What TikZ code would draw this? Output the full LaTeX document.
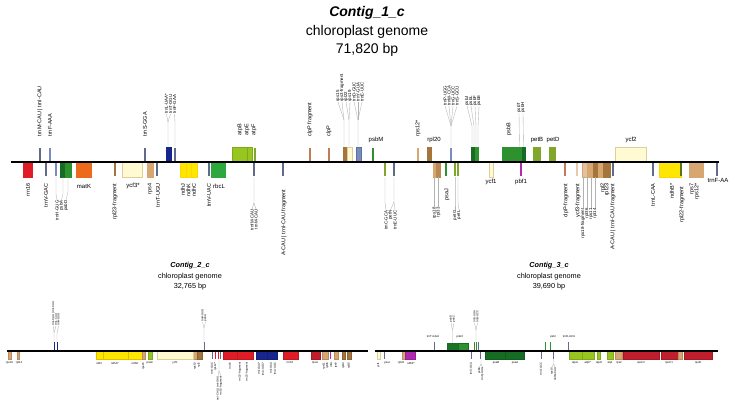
\documentclass[tikz,border=0pt]{standalone}
\usepackage{fontspec}
\setmainfont{Liberation Sans}
\usepackage{tikz}

% gene colours
\definecolor{cRrn}{RGB}{224,28,38}
\definecolor{cRpo}{RGB}{192,30,45}
\definecolor{cTrn}{RGB}{96,106,140}
\definecolor{cTrnL}{RGB}{120,140,190}
\definecolor{cTrnB}{RGB}{22,38,140}
\definecolor{cPsb}{RGB}{45,145,45}
\definecolor{cPsbD}{RGB}{22,108,36}
\definecolor{cRbc}{RGB}{44,168,60}
\definecolor{cAtp}{RGB}{152,198,32}
\definecolor{cPet}{RGB}{128,166,42}
\definecolor{cMat}{RGB}{236,106,28}
\definecolor{cYcf}{RGB}{255,250,210}
\definecolor{cYcfB}{RGB}{222,206,156}
\definecolor{cRps}{RGB}{216,166,112}
\definecolor{cRpl}{RGB}{164,118,62}
\definecolor{cClp}{RGB}{192,124,84}
\definecolor{cNdh}{RGB}{255,230,0}
\definecolor{cPur}{RGB}{176,42,176}

\begin{document}
\begin{tikzpicture}[x=1pt, y=-1pt,
    ttl/.style={font=\fontsize{14}{16}\selectfont\bfseries\itshape},
    sub/.style={font=\fontsize{14}{16}\selectfont},
    ttls/.style={font=\fontsize{7.3}{8}\selectfont\bfseries\itshape},
    subs/.style={font=\fontsize{7.3}{8}\selectfont},
    lab/.style={font=\fontsize{5.5}{6}\selectfont, inner sep=0.4pt},
    labh/.style={font=\fontsize{6}{7}\selectfont, inner sep=0.4pt},
    labup/.style={lab, rotate=90, anchor=west},
    labdn/.style={lab, rotate=90, anchor=east},
    labc/.style={font=\fontsize{4.4}{5}\selectfont, inner sep=0.3pt, rotate=90, anchor=west},
    labcd/.style={font=\fontsize{4.4}{5}\selectfont, inner sep=0.3pt, rotate=90, anchor=east},
    sm/.style={font=\fontsize{2.8}{3}\selectfont, inner sep=0.3pt},
    smup/.style={sm, rotate=90, anchor=west},
    smdn/.style={sm, rotate=90, anchor=east},
    link/.style={draw=gray!60, line width=0.35pt},
    tick/.style={line width=1.2pt},
    stick/.style={line width=0.7pt},
    axis/.style={line width=2.8pt},
    saxis/.style={line width=1.3pt}]
  \useasboundingbox[fill=white] (0,0) rectangle (735,412);

  % titles
  \node[ttl] (t1) at (367,13) {Contig\_1\_c};
  \node[sub] (t1a) at (367,32) {chloroplast genome};
  \node[sub] (t1b) at (367,50) {71,820 bp};
  \node[ttls] (t2) at (190,266) {Contig\_2\_c};
  \node[subs] (t2a) at (190,276.5) {chloroplast genome};
  \node[subs] (t2b) at (190,286.5) {32,765 bp};
  \node[ttls] (t3) at (549,266) {Contig\_3\_c};
  \node[subs] (t3a) at (549,276.5) {chloroplast genome};
  \node[subs] (t3b) at (549,286.5) {39,690 bp};

  %% ---------------- Contig 1 ----------------
  % genes above the line
  \draw[fill=cTrnB,draw=cTrnB] (166,147) rectangle (171,162);
  \draw[fill=cAtp,draw=cAtp!85!black] (232,147) rectangle (247,162);
  \draw[fill=cAtp,draw=cAtp!85!black] (247,147) rectangle (252,162);
  \draw[fill=cRpl,draw=cRpl] (343,147) rectangle (346,162);
  \draw[fill=cYcf,draw=cYcfB] (347,147) rectangle (352,162);
  \draw[fill=cTrnL,draw=cTrnL!80!black] (356,147) rectangle (361,162);
  \draw[fill=cRpl,draw=cRpl] (427,147) rectangle (431,162);
  \draw[fill=cPsbD,draw=cPsbD] (471,147) rectangle (474.5,162);
  \draw[fill=cPsb,draw=cPsb] (475,147) rectangle (478,162);
  \draw[fill=cPsb,draw=cPsb] (502,147) rectangle (517,162);
  \draw[fill=cPsb,draw=cPsb] (518.5,147) rectangle (521,162);
  \draw[fill=cPsbD,draw=cPsbD] (522.5,147) rectangle (525,162);
  \draw[fill=cPet,draw=cPet] (533,147) rectangle (540,162);
  \draw[fill=cPet,draw=cPet] (549,147) rectangle (555,162);
  \draw[fill=cYcf,draw=cYcfB] (615,147) rectangle (646,162);
  \foreach \x/\c in {40/cTrn,50/cTrnL,145/cTrn,175/cTrn,255/cPet,310/cClp,329/cClp,373/cPsb,418/cRps,451/cTrnL}
    \draw[tick,\c] (\x,148) -- (\x,161);

  % genes below the line
  \draw[fill=cRrn,draw=cRrn] (23,162) rectangle (32,177);
  \draw[fill=cPsbD,draw=cPsbD] (60,162) rectangle (65,177);
  \draw[fill=cPsb,draw=cPsb] (65,162) rectangle (71,177);
  \draw[fill=cMat,draw=cMat] (76,162) rectangle (91,177);
  \draw[fill=cYcf,draw=cYcfB] (122,162) rectangle (142,177);
  \draw[fill=cRps,draw=cRps] (147,162) rectangle (153,177);
  \draw[fill=cNdh,draw=cNdh!85!orange] (180,162) rectangle (186,177);
  \draw[fill=cNdh,draw=cNdh!85!orange] (186,162) rectangle (191,177);
  \draw[fill=cNdh,draw=cNdh!85!orange] (191,162) rectangle (197,177);
  \draw[fill=cRbc,draw=cRbc] (211,162) rectangle (225,177);
  \draw[fill=cRps,draw=cRps] (433,162) rectangle (436,177);
  \draw[fill=cRpl!60!cRps,draw=cRpl!60!cRps] (436,162) rectangle (440,177);
  \draw[fill=cYcf,draw=cYcfB] (489,162) rectangle (493,177);
  \draw[fill=cRps!70!white,draw=cRps] (582,162) rectangle (587,177);
  \draw[fill=cRps,draw=cRps] (587,162) rectangle (593,177);
  \draw[fill=cRpl,draw=cRpl] (593,162) rectangle (598,177);
  \draw[fill=cRps,draw=cRps] (598,162) rectangle (603,177);
  \draw[fill=cRpl,draw=cRpl] (603,162) rectangle (610,177);
  \draw[fill=cNdh,draw=cNdh!85!orange] (659,162) rectangle (681,177);
  \draw[fill=cRps,draw=cRps] (689,162) rectangle (703,177);
  \foreach \x/\c in {46/cTrn,56/cTrnL,115/cRpl,157/cTrn,209/cTrn,254/cTrn,283/cTrn,385/cPet,394/cTrn,446/cPsb,455/cPet,458/cPet,521/cPur,565/cClp,577/cRps!60!white,613/cTrn,653/cTrn,681/cPet!70!black,717/cTrn}
    \draw[tick,\c] (\x,163) -- (\x,176);

  \draw[axis] (11,162) -- (719,162);

  % labels above
  \node[labup] (u1) at (40,137) {trnM-CAU | trnI-CAU};
  \node[labup] (u2) at (50,137) {trnF-AAA};
  \node[labup] (u3) at (145,137) {trnS-GGA};
  \node[labc] (u4) at (166.5,114) {trnL-UAA*};
  \node[labc] (u5) at (170.5,114) {trnT-GGU};
  \node[labc] (u6) at (174.5,114) {trnF-GAA};
  \draw[link] (168,147) -- (168,122) -- (u4.west);
  \draw[link] (168,122) -- (u5.west);
  \draw[link] (175,147) -- (175,122) -- (u6.west);
  \node[labup] (u7) at (240,136) {atpB};
  \node[labup] (u8) at (247,136) {atpE};
  \node[labup] (u9) at (254,136) {atpF};
  \node[labup] (u10) at (310,137) {clpP fragment};
  \node[labup] (u11) at (329,137) {clpP};
  \node[labc] (b1) at (338,102) {rps15};
  \node[labc] (b2) at (342,102) {rps3-fragment};
  \node[labc] (b3) at (346,102) {rpl22};
  \node[labc] (b4) at (350,102) {rps19};
  \node[labc] (b5) at (354,102) {trnD-GUC};
  \node[labc] (b6) at (358,102) {trnY-GUA};
  \node[labc] (b7) at (362,102) {trnE-UUC};
  \draw[link] (344,147) -- (344,120) -- (b1.west);
  \draw[link] (344,120) -- (b2.west);
  \draw[link] (349,147) -- (349,120) -- (b3.west);
  \draw[link] (349,120) -- (b4.west);
  \draw[link] (358,147) -- (358,120) -- (b5.west);
  \draw[link] (358,120) -- (b6.west);
  \draw[link] (358,120) -- (b7.west);
  \node[labh] (u12) at (376,140) {psbM};
  \node[labup] (u13) at (418,137) {rps12*};
  \node[labh] (u14) at (434,140) {rpl20};
  \node[labc] (c1) at (445,106) {trnP-UGG};
  \node[labc] (c2) at (449,106) {trnW-CCA};
  \node[labc] (c3) at (453,106) {trnG-UCC};
  \node[labc] (c4) at (457,106) {trnS-GCU};
  \draw[link] (451,147) -- (451,126) -- (c1.west);
  \draw[link] (451,126) -- (c2.west);
  \draw[link] (451,126) -- (c3.west);
  \draw[link] (451,126) -- (c4.west);
  \node[labc] (d1) at (467,106) {psbJ};
  \node[labc] (d2) at (471,106) {psbL};
  \node[labc] (d3) at (475,106) {psbF};
  \node[labc] (d4) at (479,106) {psbE};
  \foreach \x/\n in {472/d1,474/d2,476/d3,478/d4}
    \draw[link] (\x,147) -- (\x,126) -- (\n.west);
  \node[labup] (u15) at (509,136) {psbB};
  \node[labc] (u16) at (519,113) {psbT};
  \node[labc] (u17) at (523,113) {psbH};
  \draw[link] (519.5,147) -- (u16.west);
  \draw[link] (523.5,147) -- (u17.west);
  \node[labh] (u18) at (537,140) {petB};
  \node[labh] (u19) at (553,140) {petD};
  \node[labh] (u20) at (631,140) {ycf2};

  % labels below
  \node[labdn] (l1) at (28,183) {rrn16};
  \node[labdn] (l2) at (46,183) {trnV-GAC};
  \node[labcd] (l3) at (57,200) {trnH-GUG};
  \node[labcd] (l4) at (61.5,200) {psbA};
  \node[labcd] (l5) at (66,200) {psbD};
  \draw[link] (56,177) -- (56,194) -- (l3.east);
  \draw[link] (63,177) -- (63,194) -- (l4.east);
  \draw[link] (68,177) -- (68,192) -- (l5.east);
  \node[labh] (l6) at (84,186) {matK};
  \node[labdn] (l7) at (115,183) {rpl23-fragment};
  \node[labh] (l8) at (133,186) {ycf3*};
  \node[labdn] (l9) at (150,183) {rps4};
  \node[labdn] (l10) at (158,183) {trnT-UGU};
  \node[labdn] (l11) at (183,183) {ndhJ};
  \node[labdn] (l12) at (188.5,183) {ndhK};
  \node[labdn] (l13) at (194,183) {ndhC};
  \node[labdn] (l14) at (209,183) {trnV-UAC};
  \node[labh] (l15) at (219,186) {rbcL};
  \node[labcd] (l16) at (252,209) {trnfM-CAU};
  \node[labcd] (l17) at (256,209) {trnM-CAU};
  \draw[link] (254,177) -- (254,203) -- (l16.east);
  \draw[link] (254,203) -- (l17.east);
  \node[labdn] (l18) at (284,189) {A-CAU | trnI-CAU fragment};
  \node[labcd] (l19) at (386,210) {trnC-GCA};
  \node[labcd] (l20) at (390.5,210) {petN};
  \node[labcd] (l21) at (395,210) {trnE-UUC};
  \draw[link] (385,177) -- (385,203) -- (l19.east);
  \draw[link] (394,177) -- (394,202) -- (l20.east);
  \draw[link] (394,202) -- (l21.east);
  \node[labcd] (l22) at (434.5,207) {rps18};
  \node[labcd] (l23) at (438.5,207) {rpl33};
  \draw[link] (434.5,177) -- (l22.east);
  \draw[link] (438.5,177) -- (l23.east);
  \node[labdn] (l24) at (447,188) {psaJ};
  \node[labcd] (l25) at (455,210) {petG};
  \node[labcd] (l26) at (459,210) {petL};
  \draw[link] (455,177) -- (455,203) -- (l25.east);
  \draw[link] (458,177) -- (458,203) -- (l26.east);
  \node[labh] (l27) at (491,182) {ycf1};
  \node[labh] (l28) at (521,182) {pbf1};
  \node[labdn] (l29) at (566,183) {clpP-fragment};
  \node[labdn] (l30) at (578,183) {ycf3-fragment};
  \node[labcd] (f1) at (583,208) {rps18-fragment};
  \node[labcd] (f2) at (587,208) {rpl36};
  \node[labcd] (f3) at (591,208) {rps11};
  \node[labcd] (f4) at (595,208) {rpl14};
  \foreach \x/\n in {583/f1,587/f2,591/f3,595/f4}
    \draw[link] (\x,177) -- (\n.east);
  \node[labdn] (l31) at (603,183) {rpl2};
  \node[labdn] (l32) at (607,183) {rpl23};
  \node[labdn] (l33) at (613,183) {A-CAU | trnI-CAU fragment};
  \node[labdn] (l34) at (653,183) {trnL-CAA};
  \node[labdn] (l35) at (672,183) {ndhB*};
  \node[labdn] (l36) at (682,186) {rpl22-fragment};
  \node[labdn] (l37) at (692,183) {rps7};
  \node[labdn] (l38) at (697,183) {rps12*};
  \node[labh] (l39) at (718,180) {trnF-AA};

  %% ---------------- Contig 2 ----------------
  \foreach \a/\b/\c in {8/11/cRps,17/19/cRps,96/103/cNdh,103/128/cNdh,128/142/cNdh,142/145/cRps,148/152/cAtp,157/193/cYcf,193/197/cRps,197/202/cRpl,223/237/cRrn,237/253/cRrn,256/267/cTrnB,267/277/cTrnB,283/298/cRrn,311/320/cRpo,322/328/cRps,334/338/cRps,342/345/cRpl,347/351/cRpl}
    \draw[fill=\c,draw=\c!85!black,line width=0.2pt] (\a,351) rectangle (\b,359);
  \draw[fill=cYcf,draw=cYcfB,line width=0.3pt] (157,351) rectangle (193,359);
  \foreach \x/\c in {212/cTrn,215/cRrn,218/cRrn,220/cTrn,330/cPur}
    \draw[stick,\c] (\x,351.5) -- (\x,359);
  \foreach \x/\c in {54/cTrnB,57/cTrnB,204/cTrn}
    \draw[stick,\c] (\x,342) -- (\x,350.5);
  \draw[saxis] (7,351) -- (368,351);

  \node[smup] (p1) at (53.5,326) {trnI-CAU | trnI-CAU};
  \node[smup] (p2) at (56,326) {trnL-CAA};
  \node[smup] (p3) at (58.5,326) {trnH-GUG};
  \draw[link] (54,342) -- (54,333) -- (p1.west);
  \draw[link] (54,333) -- (p2.west);
  \draw[link] (57,342) -- (57,333) -- (p3.west);
  \node[smup] (p4) at (202.5,322) {trnH-GUG};
  \node[smup] (p5) at (205.5,322) {psbA};
  \draw[link] (204,342) -- (204,328) -- (p4.west);
  \draw[link] (204,328) -- (p5.west);

  \node[sm] (q1) at (9.5,363) {rps19};
  \node[sm] (q2) at (19,363) {rpl14};
  \node[sm] (q3) at (99,363) {ndhI};
  \node[sm] (q4) at (115,363) {ndhA*};
  \node[sm] (q5) at (135,363) {ndhH};
  \node[smdn] (q6) at (143.5,362) {rps15};
  \node[sm] (q7) at (150,363) {psaC};
  \node[sm] (q8) at (175,363) {ycf1};
  \node[smdn] (q9) at (195,362) {rps19};
  \node[smdn] (q10) at (199,362) {rpl2};
  \node[smdn] (q11) at (212,362) {trnV-GAC};
  \node[smdn] (q12) at (215.5,362) {rps12*};
  \node[smdn] (q13) at (218,376) {trnI-CAU | trnI-GAU};
  \node[smdn] (q14) at (221,376) {rrn16-fragment};
  \draw[link] (219,359) -- (219,371) -- (q13.east);
  \draw[link] (219,371) -- (q14.east);
  \node[smdn] (q15) at (230,362) {rrn16};
  \node[smdn] (q16) at (240,362) {rrn23-fragment};
  \node[smdn] (q17) at (247,362) {rrn23-fragment};
  \node[smdn] (q18) at (259,362) {trnI-GAU*};
  \node[smdn] (q19) at (263,362) {trnA-UGC*};
  \node[smdn] (q20) at (271,362) {trnI-GAU};
  \node[smdn] (q21) at (275,362) {trnA-UGC};
  \node[sm] (q22) at (290,363) {rrn16};
  \node[sm] (q23) at (315,363) {rpoA};
  \node[smdn] (q24) at (324,362) {rps11};
  \node[smdn] (q25) at (327.5,362) {rpl36};
  \node[smdn] (q26) at (331,362) {infA};
  \node[smdn] (q27) at (336,362) {rps8};
  \node[smdn] (q28) at (343.5,362) {rpl14};
  \node[smdn] (q29) at (349,362) {rpl16};

  %% ---------------- Contig 3 ----------------
  \foreach \a/\b/\c in {402/405/cRps,405/415/cPur,485/505/cPsbD,505/524/cPsbD,569/582/cAtp,582/594/cAtp,597/600/cAtp,607/613/cAtp,615/622/cRps,623/659/cRpo,661/678/cRpo,678/682/cRps,684/712/cRpo}
    \draw[fill=\c,draw=\c!85!black,line width=0.2pt] (\a,351) rectangle (\b,359);
  \draw[fill=cYcf,draw=cYcfB,line width=0.3pt] (377,351) rectangle (380,359);
  \draw[fill=cPsbD!80!cPsb,draw=cPsbD,line width=0.2pt] (447,343) rectangle (458,351);
  \draw[fill=cPsb,draw=cPsbD,line width=0.2pt] (458,343) rectangle (468,351);
  \foreach \x/\c in {434/cTrn,474/cPsb,476/cPsb,478/cTrn,545/cPsb,550/cPsb,568/cTrn}
    \draw[stick,\c] (\x,342) -- (\x,350.5);
  \foreach \x/\c in {384/cTrn,471/cTrn,480/cTrn,541/cTrn,553/cTrn}
    \draw[stick,\c] (\x,351.5) -- (\x,359);
  \draw[saxis] (375,351) -- (718,351);

  \node[sm] (r1) at (433,337) {trnT-GGU};
  \node[sm] (r2) at (460,337) {psbC};
  \node[smup] (r3) at (451,323) {psbD};
  \node[smup] (r4) at (454,323) {psbZ};
  \draw[link] (452.5,343) -- (452.5,330) -- (r3.west);
  \draw[link] (452.5,330) -- (r4.west);
  \node[smup] (r5) at (474.5,323) {trnS-UGA};
  \node[smup] (r6) at (477.5,323) {trnG-UCC};
  \draw[link] (476,342) -- (476,330) -- (r5.west);
  \draw[link] (476,330) -- (r6.west);
  \node[sm] (r7) at (553,337) {psbI};
  \node[sm] (r8) at (569,337) {trnR-UCU};

  \node[smdn] (s1) at (378.5,362) {ycf1};
  \node[sm] (s2) at (387,363) {psaI};
  \node[sm] (s3) at (401,363) {rpl32};
  \node[sm] (s4) at (411,363) {ndhF*};
  \node[smdn] (s5) at (471,362) {trnS-GCU};
  \node[smdn] (s6) at (479.5,367) {psbK};
  \node[smdn] (s7) at (482.5,367) {trnQ-UUG};
  \draw[link] (481,359) -- (481,364) -- (s6.east);
  \draw[link] (481,364) -- (s7.east);
  \node[sm] (s8) at (496,363) {psaB};
  \node[sm] (s9) at (515,363) {psaA};
  \node[smdn] (s10) at (541,362) {trnG-GCC};
  \node[smdn] (s11) at (552,367) {rps14};
  \node[smdn] (s12) at (555,367) {trnfM-CAU};
  \draw[link] (553.5,359) -- (553.5,364) -- (s11.east);
  \draw[link] (553.5,364) -- (s12.east);
  \node[sm] (s13) at (575,363) {atpA};
  \node[sm] (s14) at (588,363) {atpF*};
  \node[sm] (s15) at (599,363) {atpH};
  \node[sm] (s16) at (610,363) {atpI};
  \node[sm] (s17) at (619,363) {rps2};
  \node[sm] (s18) at (641,363) {rpoC2};
  \node[sm] (s19) at (669,363) {rpoC1};
  \node[sm] (s20) at (698,363) {rpoB};
\end{tikzpicture}
\end{document}
